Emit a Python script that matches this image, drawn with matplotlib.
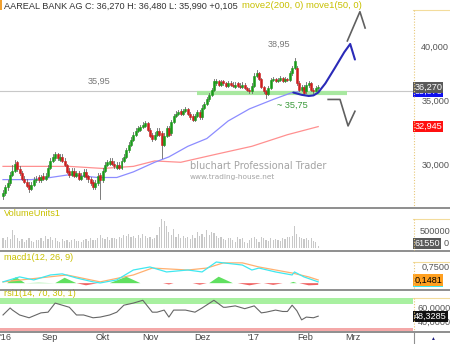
import matplotlib
matplotlib.use("Agg")
import matplotlib.pyplot as plt
from matplotlib.lines import Line2D
from matplotlib.patches import Rectangle
import numpy as np

plt.rcParams['font.family'] = ['Liberation Sans', 'DejaVu Sans']

# ---------------- data ----------------
close = [28.0, 28.4, 28.7, 29.3, 29.6, 30.1, 29.7, 29.4, 29.0, 28.8,
         28.5, 28.3, 28.6, 28.9, 29.0, 28.9, 29.1, 29.0, 29.2, 29.8,
         30.3, 30.6, 30.8, 30.5, 30.6, 30.3, 30.0, 29.5, 29.3, 29.6,
         29.2, 29.4, 29.0, 29.2, 29.5, 29.1, 29.0, 28.7, 28.4, 28.7,
         29.2, 28.9, 29.6, 30.0, 30.2, 30.3, 30.1, 29.9, 30.0, 29.8,
         30.3, 30.6, 31.1, 31.5, 31.9, 32.3, 32.6, 32.8, 32.9, 33.1,
         33.2, 32.7, 32.2, 32.0, 32.3, 32.6, 32.3, 31.5, 32.2, 32.8,
         32.3, 33.3, 33.8, 34.0, 34.1, 34.0, 34.2, 34.4, 34.0, 33.7,
         33.5, 33.8, 34.1, 33.7, 34.5, 34.8, 35.2, 35.6, 36.0, 36.8,
         36.8, 36.5, 36.7, 36.6, 36.4, 36.6, 36.5, 36.4, 36.5, 36.4,
         36.3, 36.5, 36.2, 36.0, 35.9, 36.4, 37.3, 37.5, 37.0, 36.3,
         35.9, 35.7, 36.2, 36.9, 37.0, 36.8, 36.9, 37.1, 36.8, 37.0,
         36.9, 37.5, 38.0, 38.7, 36.6, 36.0, 36.3, 35.8, 36.5, 36.6,
         36.0, 35.9, 36.165, 36.27]
open_ = [27.8, 28.0, 28.4, 28.7, 29.3, 29.6, 30.2, 29.7, 29.4, 29.0,
         28.8, 28.6, 28.3, 28.6, 28.9, 29.1, 28.9, 29.2, 29.0, 29.2,
         29.8, 30.3, 30.5, 30.8, 30.4, 30.6, 30.3, 30.0, 29.6, 29.3,
         29.6, 29.2, 29.4, 29.0, 29.2, 29.5, 29.2, 29.0, 28.8, 28.4,
         28.7, 29.3, 28.9, 29.6, 30.0, 30.1, 30.3, 30.1, 29.8, 30.0,
         29.8, 30.3, 30.6, 31.1, 31.5, 31.9, 32.3, 32.6, 32.7, 32.9,
         33.0, 33.2, 32.7, 32.3, 32.0, 32.3, 32.6, 32.4, 31.5, 32.2,
         32.8, 32.4, 33.3, 33.8, 34.0, 34.2, 34.0, 34.2, 34.4, 34.0,
         33.8, 33.5, 33.8, 34.1, 33.7, 34.5, 34.8, 35.2, 35.6, 36.0,
         36.6, 36.8, 36.5, 36.8, 36.6, 36.4, 36.6, 36.5, 36.3, 36.6,
         36.4, 36.3, 36.5, 36.2, 36.0, 35.9, 36.4, 37.3, 37.5, 37.0,
         36.3, 35.9, 35.7, 36.2, 36.9, 37.0, 36.8, 36.9, 37.1, 36.8,
         37.0, 36.9, 37.5, 38.0, 38.0, 36.6, 36.0, 36.3, 35.9, 36.5,
         36.6, 36.0, 35.9, 36.165]
high = [28.2, 28.6, 28.9, 29.5, 30.0, 30.4, 30.3, 29.9, 29.6, 29.2,
        29.0, 28.8, 28.8, 29.1, 29.2, 29.3, 29.3, 29.4, 29.4, 30.0,
        30.5, 30.8, 31.0, 30.9, 30.8, 30.8, 30.5, 30.1, 29.8, 29.8,
        29.8, 29.6, 29.6, 29.4, 29.7, 29.7, 29.3, 29.1, 28.9, 28.9,
        29.4, 29.4, 29.8, 30.2, 30.4, 30.5, 30.5, 30.3, 30.2, 30.2,
        30.5, 30.8, 31.3, 31.7, 32.1, 32.5, 32.8, 33.0, 33.1, 33.3,
        33.4, 33.3, 32.8, 32.4, 32.5, 32.8, 32.8, 32.6, 32.4, 33.0,
        33.0, 33.5, 34.0, 34.2, 34.3, 34.4, 34.4, 34.6, 34.5, 34.1,
        34.0, 34.0, 34.3, 34.3, 34.7, 35.0, 35.4, 35.8, 36.2, 37.0,
        37.0, 36.9, 36.9, 36.9, 36.7, 36.8, 36.8, 36.7, 36.7, 36.7,
        36.6, 36.7, 36.6, 36.3, 36.2, 36.6, 37.5, 37.8, 37.6, 37.1,
        36.4, 36.0, 36.4, 37.1, 37.2, 37.1, 37.1, 37.3, 37.2, 37.2,
        37.1, 37.7, 38.2, 38.95, 38.2, 36.8, 36.5, 36.5, 36.7, 36.8,
        36.7, 36.2, 36.4, 36.48]
low = [27.6, 27.9, 28.2, 28.6, 29.2, 29.5, 29.6, 29.3, 28.9, 28.7,
       28.4, 28.1, 28.2, 28.5, 28.8, 28.8, 28.8, 28.9, 28.9, 29.1,
       29.7, 30.2, 30.4, 30.4, 30.3, 30.2, 29.9, 29.4, 29.1, 29.2,
       29.1, 29.1, 28.9, 28.9, 29.1, 29.0, 28.8, 28.6, 28.3, 28.3,
       28.6, 27.6, 28.8, 29.5, 29.9, 30.0, 30.0, 29.8, 29.7, 29.7,
       29.7, 30.2, 30.5, 31.0, 31.4, 31.8, 32.2, 32.5, 32.6, 32.8,
       32.9, 32.6, 32.1, 31.8, 31.9, 32.2, 32.2, 30.5, 31.4, 32.1,
       32.2, 32.3, 33.2, 33.7, 33.9, 33.9, 33.9, 34.1, 33.9, 33.6,
       33.4, 33.4, 33.7, 33.6, 33.6, 34.4, 34.7, 35.1, 35.5, 35.9,
       36.5, 36.4, 36.4, 36.5, 36.3, 36.3, 36.4, 36.3, 36.2, 36.3,
       36.2, 36.2, 36.1, 35.9, 35.8, 35.8, 36.3, 37.2, 36.9, 36.2,
       35.8, 35.3, 35.6, 36.1, 36.8, 36.7, 36.7, 36.8, 36.7, 36.7,
       36.8, 36.8, 37.4, 37.9, 36.5, 35.9, 35.9, 35.7, 35.8, 36.3,
       35.9, 35.8, 35.9, 35.99]

volume_k = [300, 250, 350, 280, 570, 400, 300, 220, 280, 200,
            250, 300, 230, 200, 260, 240, 300, 220, 370, 280,
            330, 250, 300, 220, 200, 280, 230, 260, 200, 240,
            290, 210, 230, 200, 250, 280, 220, 300, 260, 240,
            320, 400, 300, 280, 350, 260, 320, 300, 280, 350,
            300, 420, 380, 450, 330, 380, 300, 400, 320, 450,
            380, 300, 350, 280, 320, 400, 650, 900, 850, 700,
            500, 400, 600, 350, 450, 300, 380, 300, 350, 280,
            420, 320, 500, 380, 450, 350, 550, 400, 500, 480,
            380, 300, 350, 280, 250, 320, 300, 250, 200, 350,
            280, 300, 180, 150, 250, 300, 350, 280, 200, 350,
            300, 250, 220, 300, 250, 280, 260, 230, 300, 280,
            350, 330, 380, 700, 450, 350, 320, 280, 300, 250,
            300, 220, 200, 61.55]

# moving averages (day index, price)
ma50_idx = [0, 12, 20, 28, 40, 48, 55, 64, 70, 78, 86, 95, 104, 114, 122, 125]
ma50_val = [28.95, 28.95, 29.1, 29.3, 29.1, 29.1, 29.5, 30.2, 30.6, 31.4, 32.0, 33.4, 34.4, 35.2, 35.8, 35.87]
ma200_idx = [0, 28, 42, 55, 64, 75, 90, 105, 120, 133]
ma200_val = [29.9, 29.9, 29.75, 29.9, 30.3, 30.2, 30.8, 31.4, 32.3, 32.945]

# MACD (day index, value)
macd_idx = [0, 7, 13, 20, 25, 31, 38, 41, 48, 55, 62, 69, 78, 84, 90, 93, 101, 105, 108, 115, 122, 123, 127, 133]
macd_val = [0.06, 0.29, 0.15, 0.38, 0.43, 0.24, 0.06, 0.01, 0.15, 0.61, 0.75, 0.52, 0.61, 0.52, 0.98, 0.94, 0.84, 0.61, 0.70, 0.52, 0.38, 0.52, 0.29, 0.06]
sig_idx = [0, 11, 27, 41, 55, 63, 78, 86, 93, 101, 108, 115, 122, 129, 133]
sig_val = [0.06, 0.19, 0.38, 0.06, 0.38, 0.70, 0.61, 0.70, 0.94, 0.94, 0.75, 0.61, 0.47, 0.29, 0.148]
hist_idx = [0, 1.7, 5.5, 9.3, 15, 22, 26, 31, 35, 40, 45, 52, 58, 67.5, 70, 72, 80, 83, 86, 87, 91, 97, 99, 104, 109, 110, 114, 118, 121, 122.5, 124, 125, 129, 133]
hist_val = [0.0, 0.0, 0.28, 0.0, 0.02, 0.0, 0.25, 0.0, -0.1, 0.0, 0.0, 0.3, 0.0, 0.0, -0.06, 0.0, 0.0, -0.07, 0.0, 0.0, 0.3, 0.0, 0.0, -0.1, 0.0, 0.0, -0.08, 0.0, 0.0, 0.06, 0.0, 0.0, -0.1, -0.08]

# RSI (day index, value)
rsi_idx = [0, 3, 4, 7, 11, 16, 19, 22, 25, 28, 31, 34, 38, 41, 45, 48, 51, 55, 59, 63, 65, 68, 70, 72, 77, 81, 84, 89, 93, 94, 98, 102, 106, 109, 111, 115, 118, 120, 122, 124, 126, 128, 131, 133]
rsi_val = [50, 60, 57, 50, 46, 53, 54, 67, 64, 61, 50, 50, 46, 47, 50, 54, 64, 67, 71, 54, 54, 57, 47, 57, 57, 54, 60, 71, 61, 61, 63, 59, 63, 53, 54, 57, 55, 55, 64, 56, 43, 47, 46, 48.3]

month_labels = ["'16", "Sep", "Okt", "Nov", "Dez", "'17", "Feb", "Mrz"]
month_pos = [0.9, 19.8, 42.2, 62.0, 84.0, 105.5, 127.4, 147.7]

support_level = 35.75
last_close_line = 35.95
peak_value = 38.95
# hand-drawn projection sketches (day index, price)
proj_blue_idx = [122.5, 126, 129, 131, 133, 136, 140, 144, 146.5, 148.5]
proj_blue_val = [35.8, 35.6, 35.5, 35.55, 35.8, 36.6, 38.0, 39.5, 40.3, 38.8]
proj_gray_up_idx = [145.3, 150.6, 152.8]
proj_gray_up_val = [40.6, 43.6, 41.9]
proj_gray_dn_idx = [137.2, 142.2, 145.6, 148.5]
proj_gray_dn_val = [35.2, 35.2, 33.0, 34.2]

# ---------------- layout ----------------
W, H = 450, 344
fig = plt.figure(figsize=(W / 100, H / 100), dpi=100)
fig.patch.set_facecolor('white')

def rect(x0, y0, x1, y1):
    return [x0 / W, 1 - y1 / H, (x1 - x0) / W, (y1 - y0) / H]

XL = (-1.27, 173.0)
ax = fig.add_axes(rect(0, 0, 413, 207))
axv = fig.add_axes(rect(0, 208, 413, 250))
axm = fig.add_axes(rect(0, 251, 413, 289))
axr = fig.add_axes(rect(0, 290, 413, 331))
for a in (ax, axv, axm, axr):
    a.set_xlim(*XL)
    for s in a.spines.values():
        s.set_visible(False)
    a.set_xticks([])
    a.set_yticks([])
    a.patch.set_alpha(0)

FS = 6.6
# main price panel (log scale)
ax.set_yscale('log')
ax.set_ylim(27.08, 44.86)
ax.minorticks_off()
ax.set_yticks([])
idx = np.arange(len(close))
ax.axhline(last_close_line, color='#c8c8c8', lw=0.8, zorder=1)
ax.plot([82, 145], [support_level, support_level], color='#a8e8a0', lw=3.0, solid_capstyle='butt', zorder=1)
ax.plot(ma200_idx, ma200_val, color='#ff9090', lw=0.9, zorder=2)
ax.plot(ma50_idx, ma50_val, color='#8c8cff', lw=0.9, zorder=2)
for i in idx:
    o, c, h, l = open_[i], close[i], high[i], low[i]
    col = '#1a9a1a' if c >= o else '#cc1f1f'
    ax.plot([i, i], [l, h], color='#666666', lw=0.6, zorder=3)
    lo, hi = min(o, c), max(o, c)
    if hi - lo < 0.04:
        ax.plot([i - 0.45, i + 0.45], [c, c], color='#666666', lw=0.6, zorder=4)
    else:
        ax.add_patch(Rectangle((i - 0.42, lo), 0.84, hi - lo, facecolor=col, edgecolor=col, lw=0.4, zorder=4))
ax.plot(proj_blue_idx, proj_blue_val, color='#2a2ab8', lw=1.5, zorder=5, solid_capstyle='round')
ax.plot(proj_gray_up_idx, proj_gray_up_val, color='#606060', lw=1.2, zorder=5)
ax.plot(proj_gray_dn_idx, proj_gray_dn_val, color='#606060', lw=1.2, zorder=5)

ax.text(40.5, 36.75, "35,95", color='#777777', fontsize=FS, ha='center', va='center')
ax.text(116.5, 40.3, "38,95", color='#777777', fontsize=FS, ha='center', va='center')
ax.text(122.0, 34.7, "~ 35,75", color='#3a9a3a', fontsize=FS, ha='center', va='center')
ax.text(78.8, 29.95, "bluchart Professional Trader", color='#a4a4a4', fontsize=7.0,
        family='DejaVu Sans', ha='left', va='center', bbox=dict(fc='white', ec='none', pad=0.5), zorder=1.5)
ax.text(78.8, 29.15, "www.trading-house.net", color='#a4a4a4', fontsize=5.3, family='DejaVu Sans',
        ha='left', va='center', zorder=1.5)

# title
t1 = fig.text(4 / W, 1 - 6 / H, "AAREAL BANK AG C: 36,270 H: 36,480 L: 35,990 +0,105",
              color='#333333', fontsize=FS, ha='left', va='center')
fig.canvas.draw()
bb = t1.get_window_extent()
fig.text(bb.x1 / W + 4 / W, 1 - 6 / H, "move2(200, 0) move1(50, 0)", color='#c8c000', fontsize=6.8,
         ha='left', va='center')
fig.add_artist(Rectangle((0, 1 - 10 / H), 2 / W, 10 / H, transform=fig.transFigure, fc='#f0a030', ec='none'))

# right axis labels main
yt = ax.get_yaxis_transform()
for v, s in [(40, "40,000"), (35, "35,000"), (30, "30,000")]:
    ax.text(1.02, v, s, transform=yt, color='#555555', fontsize=FS, ha='left', va='center', clip_on=False)
ax.text(1.003, 35.87, "35,873", transform=yt, color='white', fontsize=FS, ha='left', va='center',
        bbox=dict(boxstyle='square,pad=0.12', fc='#1010ee', ec='none'), clip_on=False)
ax.text(1.003, 36.27, "36,270", transform=yt, color='white', fontsize=FS, ha='left', va='center',
        bbox=dict(boxstyle='square,pad=0.12', fc='#5a5a5a', ec='none'), clip_on=False)
ax.text(1.003, 32.945, "32,945", transform=yt, color='white', fontsize=FS, ha='left', va='center',
        bbox=dict(boxstyle='square,pad=0.12', fc='#ff1010', ec='none'), clip_on=False)

# volume
axv.set_ylim(-62.5, 1250)
axv.bar(idx, volume_k, width=0.5, color='#c8c8c8', zorder=2)
axv.text(0.01, 0.87, "VolumeUnits1", transform=axv.transAxes, color='#c8c000', fontsize=FS, ha='left', va='center')
yv = axv.get_yaxis_transform()
axv.text(1.015, 500, "500000", transform=yv, color='#555555', fontsize=FS, ha='left', va='center', clip_on=False)
axv.text(1.003, 150, "61550", transform=yv, color='white', fontsize=FS, ha='left', va='center',
         bbox=dict(boxstyle='square,pad=0.12', fc='#5a5a5a', ec='none'), clip_on=False)
axv.text(1.075, 150, "0", transform=yv, color='#555555', fontsize=FS, ha='left', va='center', clip_on=False)

# macd
axm.set_ylim(-0.27, 1.49)
hx = np.array(hist_idx, dtype=float)
hv = np.array(hist_val)
axm.fill_between(hx, 0, hv, where=hv >= 0, color='#60e060', lw=0, interpolate=True, zorder=2)
axm.fill_between(hx, 0, hv, where=hv <= 0, color='#f06060', lw=0, interpolate=True, zorder=2)
axm.plot(sig_idx, sig_val, color='#ffb070', lw=0.9, zorder=3)
axm.plot(macd_idx, macd_val, color='#40e8f0', lw=0.9, zorder=3)
axm.text(0.01, 0.83, "macd1(12, 26, 9)", transform=axm.transAxes, color='#c8c000', fontsize=FS, ha='left', va='center')
ym = axm.get_yaxis_transform()
axm.text(1.02, 0.75, "0,7500", transform=ym, color='#555555', fontsize=FS, ha='left', va='center', clip_on=False)
axm.text(1.003, 0.10, "0,1481", transform=ym, color='#40e8f0', fontsize=FS, ha='left', va='center',
         bbox=dict(boxstyle='square,pad=0.12', fc='#40e8f0', ec='none'), clip_on=False)
axm.text(1.003, 0.148, "0,1481", transform=ym, color='black', fontsize=FS, ha='left', va='center',
         bbox=dict(boxstyle='square,pad=0.12', fc='#ffa020', ec='none'), clip_on=False)

# rsi
axr.set_ylim(27.1, 85.7)
axr.axhspan(66.0, 74.5, color='#a8f0a0', lw=0, zorder=1)
axr.axhspan(27.1, 31.0, color='#f4a8a8', lw=0, zorder=1)
axr.plot(rsi_idx, rsi_val, color='#666666', lw=0.8, zorder=3)
axr.text(0.01, 0.91, "rsi1(14, 70, 30, 1)", transform=axr.transAxes, color='#c8c000', fontsize=FS, ha='left', va='center', zorder=4)
yr = axr.get_yaxis_transform()
axr.text(1.012, 60, "60,0000", transform=yr, color='#555555', fontsize=FS, ha='left', va='center', clip_on=False)
axr.text(1.012, 40, "40,0000", transform=yr, color='#555555', fontsize=FS, ha='left', va='center', clip_on=False)
axr.text(1.003, 48.33, "48,3285", transform=yr, color='white', fontsize=FS, ha='left', va='center',
         bbox=dict(boxstyle='square,pad=0.12', fc='#111111', ec='none'), clip_on=False)
xt = axr.get_xaxis_transform()
for lab, p in zip(month_labels, month_pos):
    axr.text(p, -6 / 41, lab, transform=xt, color='#444444', fontsize=FS, ha='center', va='center', clip_on=False)

# frame lines
def hline(y, x0, x1, color, lw=1.0, ls='-'):
    fig.add_artist(Line2D([x0 / W, x1 / W], [1 - y / H, 1 - y / H], color=color, lw=lw, ls=ls, transform=fig.transFigure))

def vline(x, y0, y1, color, lw=1.0, ls='-'):
    fig.add_artist(Line2D([x / W, x / W], [1 - y0 / H, 1 - y1 / H], color=color, lw=lw, ls=ls, transform=fig.transFigure))

for y in (207.5, 250.5, 289.5, 331.5):
    hline(y, 0, W, '#707070', lw=1.1)
for top, bot in ((10, 207), (219, 250), (262, 289), (298, 331)):
    hline(top, 413, W, '#f3dc9c', lw=0.8)
    vline(413.5, top, bot, '#e8c878', lw=0.8, ls=(0, (1, 1.5)))
vline(413.5, 331.5, H, '#909090', lw=0.8)
fig.text(432 / W, 1 - 338 / H, "\u25b2", color='#202080', fontsize=3.5, ha='center', va='center')

fig.savefig("out.png", dpi=100)
